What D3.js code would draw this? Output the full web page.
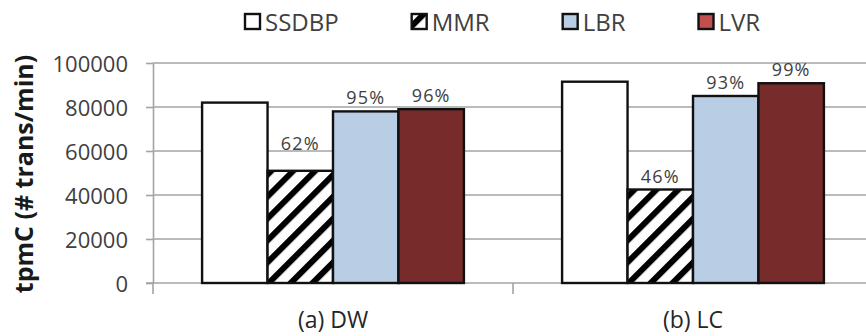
<!DOCTYPE html>
<html>
<head>
<meta charset="utf-8">
<script src="https://cdn.jsdelivr.net/npm/d3@7/dist/d3.min.js"></script>
<style>
  html, body { margin: 0; padding: 0; background: #fff; }
  svg { display: block; }
  text { font-family: "Open Sans", "Noto Sans", sans-serif; }
</style>
</head>
<body>
<div id="chart"></div>
<script>
// Workloads on the x axis and the four replication schemes in each group
const categories = ["(a) DW", "(b) LC"];
const series = ["SSDBP", "MMR", "LBR", "LVR"];

// Throughput in tpmC for each scheme, one array per workload
const dwValues = [82000, 51000, 78000, 79000];
const lcValues = [91500, 42500, 85000, 90800];

// Y axis ticks
const yTicks = [0, 20000, 40000, 60000, 80000, 100000];
const yMax = 100000;

const W = 866, H = 336;
const plot = { left: 153, top: 63, bottom: 283, groupWidth: 360 };

const rows = categories.map((c, i) => ({
  category: c,
  values: (i === 0 ? dwValues : lcValues)
}));

const svg = d3.select("#chart").append("svg")
  .attr("width", W).attr("height", H)
  .attr("viewBox", `0 0 ${W} ${H}`);

// Hatch for the MMR bars
const defs = svg.append("defs");
const hatch = defs.append("pattern")
  .attr("id", "hatch")
  .attr("patternUnits", "userSpaceOnUse")
  .attr("width", 15.5).attr("height", 15.5)
  .attr("patternTransform", "rotate(45)");
hatch.append("rect").attr("width", 15.5).attr("height", 15.5).attr("fill", "#fff");
hatch.append("rect").attr("x", 0).attr("width", 6).attr("height", 15.5).attr("fill", "#000");

const fills = { SSDBP: "#ffffff", MMR: "url(#hatch)", LBR: "#b9cde5", LVR: "#772b2a" };
const legendFills = { SSDBP: "#ffffff", MMR: "url(#hatch)", LBR: "#b9cde5", LVR: "#c0504d" };

const x0 = d3.scaleBand()
  .domain(categories)
  .range([plot.left, plot.left + plot.groupWidth * categories.length])
  .padding(0);
const x1 = d3.scaleBand()
  .domain(series)
  .range([0, x0.bandwidth()])
  .paddingInner(0)
  .paddingOuter(0.75);
const y = d3.scaleLinear().domain([0, yMax]).range([plot.bottom, plot.top]);

const gridColor = "#a3a3a3";
const labelColor = "#404040";

// Horizontal gridlines
svg.append("g")
  .selectAll("line")
  .data(yTicks.filter(t => t > 0))
  .join("line")
  .attr("x1", plot.left).attr("x2", W)
  .attr("y1", d => y(d)).attr("y2", d => y(d))
  .attr("stroke", gridColor).attr("stroke-width", 1.6);

// Y axis
const yAxis = svg.append("g")
  .attr("transform", `translate(${plot.left},0)`)
  .call(d3.axisLeft(y).tickValues(yTicks).tickSize(7).tickSizeOuter(0)
    .tickPadding(18).tickFormat(d3.format("d")));
yAxis.select(".domain").attr("stroke", gridColor).attr("stroke-width", 1.6);
yAxis.selectAll(".tick line").attr("stroke", gridColor).attr("stroke-width", 1.6);
yAxis.selectAll(".tick text")
  .attr("font-size", 22).attr("fill", labelColor)
  .attr("font-family", "'Open Sans', sans-serif")
  .attr("dy", "0.38em");

// X axis baseline and group boundary ticks
const xAxis = svg.append("g");
xAxis.append("line")
  .attr("x1", plot.left - 7).attr("x2", W)
  .attr("y1", plot.bottom).attr("y2", plot.bottom)
  .attr("stroke", gridColor).attr("stroke-width", 1.6);
const bounds = categories.map(c => x0(c)).concat([x0.range()[1]]);
xAxis.selectAll("line.bound")
  .data(bounds)
  .join("line")
  .attr("class", "bound")
  .attr("x1", d => d).attr("x2", d => d)
  .attr("y1", plot.bottom).attr("y2", plot.bottom + 11)
  .attr("stroke", gridColor).attr("stroke-width", 1.6);

// Category labels
const catAxis = svg.append("g")
  .attr("transform", `translate(0,${plot.bottom})`)
  .call(d3.axisBottom(x0).tickSize(0).tickPadding(0));
catAxis.select(".domain").remove();
catAxis.selectAll(".tick text")
  .attr("font-size", 23).attr("fill", "#262626")
  .attr("font-family", "'Open Sans', sans-serif")
  .attr("dy", null).attr("y", 45);

// Bars
const groups = svg.append("g")
  .selectAll("g")
  .data(rows)
  .join("g")
  .attr("transform", d => `translate(${x0(d.category)},0)`);

groups.selectAll("rect")
  .data(d => series.map((s, i) => ({ s, v: d.values[i] })))
  .join("rect")
  .attr("x", d => x1(d.s))
  .attr("y", d => y(d.v))
  .attr("width", x1.bandwidth())
  .attr("height", d => y(0) - y(d.v))
  .attr("fill", d => fills[d.s])
  .attr("stroke", "#111")
  .attr("stroke-width", 2.4);

// Percentage of SSDBP throughput above each non-baseline bar
const labelLift = { "(a) DW|MMR": 14 };
groups.selectAll("text.pct")
  .data(d => series.slice(1).map((s, i) => ({
    s, v: d.values[i + 1], base: d.values[0], key: d.category + "|" + s
  })))
  .join("text")
  .attr("class", "pct")
  .attr("x", d => x1(d.s) + x1.bandwidth() / 2)
  .attr("y", d => y(d.v) - 7 - (labelLift[d.key] || 0))
  .attr("text-anchor", "middle")
  .attr("font-size", 18)
  .attr("letter-spacing", 1.2)
  .attr("fill", labelColor)
  .text(d => Math.round(d.v / d.base * 100) + "%");

// Y axis title
svg.append("text")
  .attr("transform", `translate(33,${(plot.top + plot.bottom) / 2 + 1}) rotate(-90)`)
  .attr("text-anchor", "middle")
  .attr("font-size", 25)
  .attr("font-weight", 700)
  .attr("fill", "#1a1a1a")
  .text("tpmC (# trans/min)");

// Legend
const legend = svg.append("g");
let lx = 245;
series.forEach(s => {
  const item = legend.append("g").attr("transform", `translate(${lx},0)`);
  item.append("rect")
    .attr("x", 0).attr("y", 14)
    .attr("width", 15).attr("height", 15)
    .attr("fill", legendFills[s])
    .attr("stroke", "#111").attr("stroke-width", 2.4);
  const t = item.append("text")
    .attr("x", 20).attr("y", 30.5)
    .attr("font-size", 24)
    .attr("fill", labelColor)
    .text(s);
  lx += 20 + t.node().getComputedTextLength() + 73;
});
</script>
</body>
</html>
